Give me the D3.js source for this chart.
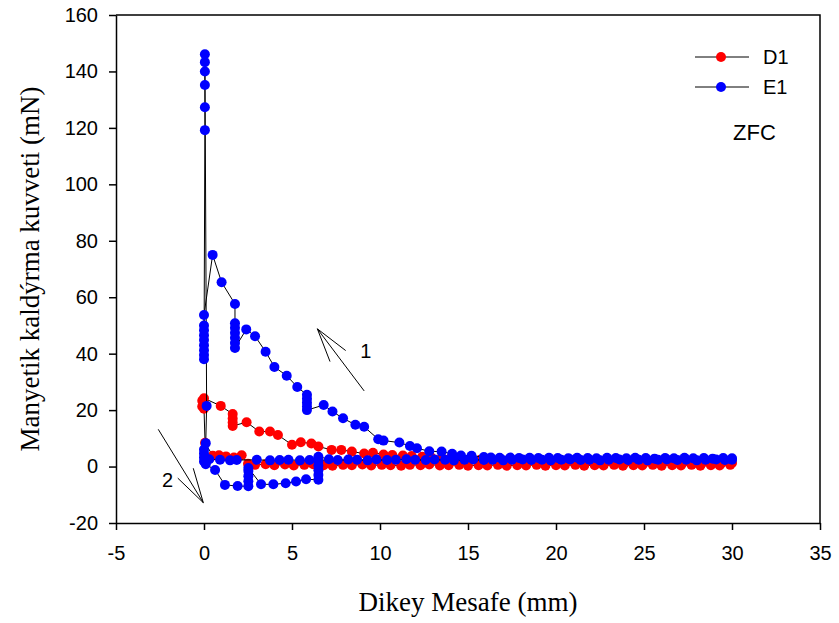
<!DOCTYPE html>
<html lang="en">
<head>
<meta charset="utf-8">
<title>Manyetik kaldirma kuvveti - ZFC</title>
<script src="https://d3js.org/d3.v7.min.js"></script>
<style>
    body { margin: 0; background: #fff; }
</style>
</head>
<body>
<script type="text/javascript">

    // axis ticks
    var xTicks = [-5, 0, 5, 10, 15, 20, 25, 30, 35];
    var yTicks = [-20, 0, 20, 40, 60, 80, 100, 120, 140, 160];

    // D1 (red) - approach from 30 mm down to 0
    var d1Approach = [[30.0,1.3],[29.4,1.2],[28.9,1.4],[28.3,1.3],[27.8,1.2],[27.2,1.4],[26.7,1.3],[26.1,1.5],
        [25.6,1.4],[25.0,1.3],[24.5,1.5],[23.9,1.4],[23.4,1.6],[22.8,1.5],[22.3,1.4],[21.7,1.6],[21.2,1.7],
        [20.6,1.6],[20.1,1.8],[19.5,1.7],[19.0,1.9],[18.4,2.0],[17.9,1.9],[17.3,2.1],[16.8,2.2],[16.2,2.3],
        [15.7,2.4],[15.1,2.6],[14.6,2.7],[14.0,2.9],[13.5,3.1],[12.9,3.3],[12.4,3.5],[11.8,3.7],[11.3,3.9],
        [10.7,4.1],[10.2,4.3],[9.6,4.9],[9.1,4.6],[8.4,5.3],[7.8,5.9],[7.25,5.9],[6.5,7.1],[6.1,8.2],
        [5.5,8.6],[5.0,7.7],[4.2,11.2],[3.75,12.4],[3.14,12.4],[2.42,15.7],[1.63,14.4],[1.63,15.6],
        [1.63,17.0],[1.63,18.6],[0.95,21.5]];
    // D1 - values at the magnet
    var d1Peak = [[0.0,24.2],[-0.1,23.3],[0.0,22.3],[-0.1,21.3],[0.0,20.5],[0.06,8.4]];
    // D1 - moving away again
    var d1Retreat = [[0.5,3.8],[0.85,4.0],[1.25,3.6],[1.7,3.2],[2.14,4.0],[2.5,1.0],[2.9,0.6],[3.5,0.8],
        [4.0,0.5],[4.6,0.7],[5.1,0.4],[5.7,0.6],[6.2,0.8],[6.8,0.5],[7.3,0.3],[7.9,0.6],[8.4,0.5],[9.0,0.7],
        [9.5,0.4],[10.1,0.6],[10.6,0.5],[11.2,0.3],[11.7,0.6],[12.3,0.5],[12.8,0.7],[13.4,0.4],[13.9,0.5],
        [14.5,0.6],[15.0,0.3],[15.6,0.5],[16.1,0.4],[16.7,0.6],[17.2,0.3],[17.8,0.5],[18.3,0.4],[18.9,0.6],
        [19.4,0.3],[20.0,0.5],[20.5,0.4],[21.1,0.6],[21.6,0.3],[22.2,0.5],[22.7,0.4],[23.3,0.6],[23.8,0.3],
        [24.4,0.5],[24.9,0.4],[25.5,0.6],[26.0,0.3],[26.6,0.5],[27.1,0.4],[27.7,0.6],[28.2,0.3],[28.8,0.5],
        [29.3,0.4],[29.9,0.6]];

    // E1 (blue) - approach from 30 mm down to 0
    var e1Approach = [[30.0,2.9],[29.5,3.0],[28.9,2.8],[28.4,3.0],[27.8,2.9],[27.3,3.1],[26.7,2.9],[26.2,3.0],
        [25.6,2.8],[25.1,3.0],[24.5,3.1],[24.0,2.9],[23.4,3.0],[22.9,3.1],[22.3,2.9],[21.8,3.0],[21.2,3.1],
        [20.7,2.9],[20.1,3.0],[19.6,3.1],[19.0,3.0],[18.5,3.1],[17.9,3.0],[17.4,3.2],[16.8,3.1],[16.3,3.2],
        [15.9,3.4],[15.2,3.8],[14.6,3.9],[14.1,4.5],[13.5,5.3],[12.8,5.4],[12.1,6.5],[11.7,7.3],[11.1,8.5],
        [10.2,9.2],[9.9,9.7],[9.1,14.1],[8.6,14.8],[7.9,17.1],[7.3,19.5],[6.8,21.8],[5.85,20.0],[5.85,21.3],
        [5.85,22.6],[5.85,24.0],[5.85,25.4],[5.3,28.2],[4.7,32.2],[4.0,35.3],[3.5,40.7],[2.9,46.2],[2.4,48.6],
        [1.76,42.0],[1.76,43.8],[1.76,45.6],[1.76,47.4],[1.76,49.2],[1.76,50.8],[1.76,57.6],[1.0,65.3],
        [0.49,75.0],[0.0,53.7],[0.0,50.0],[0.0,48.3],[0.0,46.5],[0.0,44.8],[0.0,43.0],[0.0,41.2],[0.0,39.5],
        [0.0,38.0]];
    // E1 - peak at the magnet and drop
    var e1Peak = [[0.05,119.2],[0.05,127.3],[0.05,135.2],[0.05,140.0],[0.05,143.3],[0.05,146.1],
        [0.15,21.5],[0.1,8.3],[0.0,6.0],[0.0,4.6],[0.0,3.2],[0.0,1.8],[0.1,0.8]];
    // E1 - moving away (negative part, then flat)
    var e1Retreat = [[0.63,-1.2],[1.19,-6.5],[1.91,-6.9],[2.52,-7.0],[2.52,-5.2],[2.52,-3.4],[2.52,-1.6],
        [2.52,-0.5],[3.24,-6.3],[3.94,-6.3],[4.64,-5.9],[5.23,-5.3],[5.8,-4.5],[6.5,-4.7],[6.5,-3.0],
        [6.5,-1.3],[6.5,0.4],[6.5,2.0],[6.5,3.5],[7.1,2.6],[7.6,2.3],[8.2,2.5],[8.7,2.4],[9.3,2.2],[9.8,2.5],
        [10.4,2.3],[10.9,2.4],[11.5,2.6],[12.0,2.4],[12.6,2.3],[13.1,2.5],[13.7,2.4],[14.2,2.2],[14.8,2.4],
        [15.3,2.5],[15.9,2.3],[16.4,2.4],[17.0,2.2],[17.5,2.4],[18.1,2.5],[18.6,2.3],[19.2,2.4],[19.7,2.2],
        [20.3,2.4],[20.8,2.5],[21.4,2.3],[21.9,2.4],[22.5,2.2],[23.0,2.4],[23.6,2.5],[24.1,2.3],[24.7,2.4],
        [25.2,2.2],[25.8,2.4],[26.3,2.5],[26.9,2.3],[27.4,2.4],[28.0,2.2],[28.5,2.4],[29.1,2.5],[29.6,2.3],
        [30.0,2.4]];
    // E1 - second approach close to the magnet
    var e1Return = [[6.0,2.3],[5.45,2.2],[4.8,2.4],[4.3,2.3],[3.75,2.2],[3.0,2.4],[1.86,2.3],[1.48,2.2],
        [0.91,2.4],[0.3,2.6]];

    // arrows 1 and 2 (tail, tip, two head ends) in data units
    var arrow1 = [[9.1,26.8],[6.44,48.8],[8.05,41.1],[7.16,37.2]];
    var arrow2 = [[-2.6,13.2],[-0.04,-12.8],[-1.49,-4.1],[-0.61,-0.6]];
    var arrowLabels = [["1", 9.2, 38.6], ["2", -2.07, -7.1]];

    var seriesNames = ["D1", "E1"];
    var seriesColors = ["#ff0000", "#0000ff"];

    var series = [
        d1Approach.concat(d1Peak, d1Retreat),
        e1Approach.concat(e1Peak, e1Retreat, e1Return)
    ];

    //chart size
    var W = 839, H = 623;
    var margin = {top: 15, right: 19, bottom: 100, left: 116};
    var width = W - margin.left - margin.right;
    var height = H - margin.top - margin.bottom;

    var xScale = d3.scaleLinear().domain([-5, 35]).range([0, width]);
    var yScale = d3.scaleLinear().domain([-20, 160]).range([height, 0]);

    var svg = d3.select("body")
        .append("svg")
        .attr("width", W)
        .attr("height", H);

    var g = svg.append("g")
        .attr("transform", "translate(" + margin.left + "," + margin.top + ")");

    var sansFont = "Arial, 'Liberation Sans', sans-serif";
    var serifFont = "'Times New Roman', 'Liberation Serif', serif";

    //plain hyphen for negative tick labels
    var tickFmt = function(d) { return String(d); };

    //frame top and right
    g.append("path")
        .attr("d", "M0,0H" + width + "V" + height)
        .attr("fill", "none")
        .attr("stroke", "#000")
        .attr("stroke-width", 1.5);

    //x axis
    var xAxis = g.append("g")
        .attr("transform", "translate(0," + height + ")")
        .call(d3.axisBottom(xScale).tickValues(xTicks).tickFormat(tickFmt)
            .tickSize(7).tickSizeOuter(0).tickPadding(16));

    //y axis
    var yAxis = g.append("g")
        .call(d3.axisLeft(yScale).tickValues(yTicks).tickFormat(tickFmt)
            .tickSize(7).tickSizeOuter(0).tickPadding(11));

    [xAxis, yAxis].forEach(function(ax) {
        ax.selectAll("path, line").attr("stroke", "#000").attr("stroke-width", 1.5);
        ax.selectAll("text")
            .attr("fill", "#000")
            .attr("font-family", sansFont)
            .attr("font-size", "20px");
    });

    //lines and markers
    var line = d3.line()
        .x(function(d) { return xScale(d[0]); })
        .y(function(d) { return yScale(d[1]); });

    for (var s = 0; s < series.length; s++) {
        g.append("path")
            .datum(series[s])
            .attr("d", line)
            .attr("fill", "none")
            .attr("stroke", "#000")
            .attr("stroke-width", 1);

        g.append("g").selectAll("circle")
            .data(series[s])
            .enter()
            .append("circle")
            .attr("cx", function(d) { return xScale(d[0]); })
            .attr("cy", function(d) { return yScale(d[1]); })
            .attr("r", 5)
            .attr("fill", seriesColors[s]);
    }

    //arrows
    [arrow1, arrow2].forEach(function(a) {
        var tip = a[1];
        [a[0], a[2], a[3]].forEach(function(p) {
            g.append("line")
                .attr("x1", xScale(p[0])).attr("y1", yScale(p[1]))
                .attr("x2", xScale(tip[0])).attr("y2", yScale(tip[1]))
                .attr("stroke", "#000")
                .attr("stroke-width", 1);
        });
    });

    g.selectAll(".arrowlabel")
        .data(arrowLabels)
        .enter()
        .append("text")
        .attr("class", "arrowlabel")
        .attr("x", function(d) { return xScale(d[1]); })
        .attr("y", function(d) { return yScale(d[2]); })
        .attr("text-anchor", "middle")
        .attr("font-family", sansFont)
        .attr("font-size", "20px")
        .text(function(d) { return d[0]; });

    //legend
    var legend = svg.append("g").attr("transform", "translate(695,57)");
    seriesNames.forEach(function(name, i) {
        var row = legend.append("g").attr("transform", "translate(0," + (i * 30) + ")");
        row.append("line")
            .attr("x1", 0).attr("x2", 54)
            .attr("stroke", "#000").attr("stroke-width", 1);
        row.append("circle")
            .attr("cx", 26).attr("r", 5)
            .attr("fill", seriesColors[i]);
        row.append("text")
            .attr("x", 68).attr("y", 7)
            .attr("font-family", sansFont)
            .attr("font-size", "20px")
            .text(name);
    });

    svg.append("text")
        .attr("x", 733).attr("y", 140)
        .attr("font-family", sansFont)
        .attr("font-size", "22px")
        .text("ZFC");

    //axis titles
    svg.append("text")
        .attr("x", margin.left + xScale(15))
        .attr("y", 611)
        .attr("text-anchor", "middle")
        .attr("font-family", serifFont)
        .attr("font-size", "27px")
        .text("Dikey Mesafe (mm)");

    svg.append("text")
        .attr("transform", "translate(39," + (margin.top + yScale(70)) + ") rotate(-90)")
        .attr("text-anchor", "middle")
        .attr("font-family", serifFont)
        .attr("font-size", "27px")
        .text("Manyetik kaldýrma kuvveti (mN)");

</script>
</body>
</html>
